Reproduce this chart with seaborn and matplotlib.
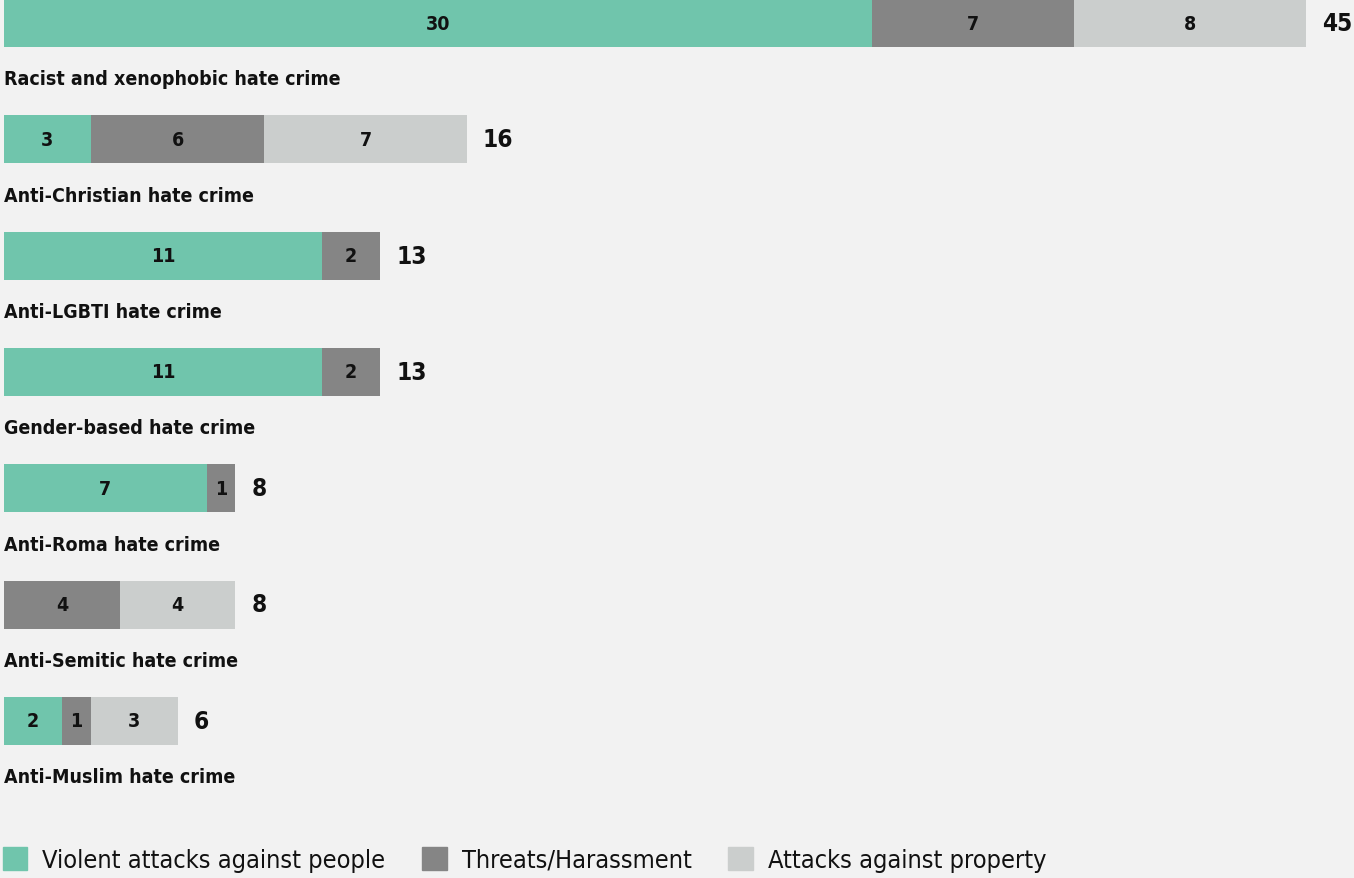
import pandas as pd
import numpy as np
import matplotlib
matplotlib.use("Agg")
import matplotlib.pyplot as plt
import seaborn as sns
from matplotlib.patches import Patch

# data
categories = ["Racist and xenophobic hate crime", "Anti-Christian hate crime",
              "Anti-LGBTI hate crime", "Gender-based hate crime",
              "Anti-Roma hate crime", "Anti-Semitic hate crime",
              "Anti-Muslim hate crime"]
violent = [30, 3, 11, 11, 7, 0, 2]
threats = [7, 6, 2, 2, 1, 4, 1]
property_attacks = [8, 7, 0, 0, 0, 4, 3]
series_names = ["Violent attacks against people", "Threats/Harassment",
                "Attacks against property"]

GREEN = "#70c5ac"
DARK = "#858585"
LIGHT = "#cbcecd"
BG = "#f2f2f2"

df = pd.DataFrame({"category": categories, "violent": violent,
                   "threats": threats, "property": property_attacks})
df["vt"] = df.violent + df.threats
df["total"] = df.vt + df.property

sns.set_theme(style="white")
plt.rcParams["font.family"] = ["DejaVu Sans"]
plt.rcParams["font.stretch"] = "condensed"

fig = plt.figure(figsize=(13.54, 8.79), dpi=100, facecolor=BG)
ax = fig.add_axes([0, 0, 1, 1])
ax.set_facecolor(BG)

# stacked by overdrawing cumulative sums
bh = 48 / 116.3
for col, c in [("total", LIGHT), ("vt", DARK), ("violent", GREEN)]:
    sns.barplot(data=df, x=col, y="category", color=c, saturation=1,
                width=bh, orient="h", linewidth=0, ax=ax)

px = 1354 / 46.8  # pixels per unit
xmin, xmax = -4 / px, 1350 / px
ax.set_xlim(xmin, xmax)
ax.set_ylim((879 - 24) / 116.3, -24 / 116.3)
ax.axis("off")

ink = "#111111"
for i, row in df.iterrows():
    starts = [0, row.violent, row.vt]
    vals = [row.violent, row.threats, row.property]
    for s, v in zip(starts, vals):
        if v > 0:
            ax.text(s + v / 2, i, str(v), ha="center", va="center",
                    fontsize=14, fontweight="bold", color=ink)
    tx = row.total + 16 / px
    if tx + 1.5 > xmax:
        ax.text(xmax - 0.05, i, str(row.total), ha="right", va="center",
                fontsize=17.5, fontweight="bold", color=ink)
    else:
        ax.text(tx, i, str(row.total), ha="left", va="center",
                fontsize=17.5, fontweight="bold", color=ink)
    ax.text(0, i + 0.48, row.category, ha="left", va="center",
            fontsize=14, fontweight="bold", color=ink)

handles = [Patch(color=c, label=n) for c, n in zip([GREEN, DARK, LIGHT], series_names)]
ax.legend(handles=handles, loc="lower left", bbox_to_anchor=(0.0, 0.004),
          ncol=3, frameon=False, fontsize=18.2, borderpad=0.1, borderaxespad=0,
          handlelength=0.97, handleheight=1.0, handletextpad=0.6,
          columnspacing=1.45, labelcolor=ink)

fig.savefig("out.png", dpi=100, facecolor=BG)
